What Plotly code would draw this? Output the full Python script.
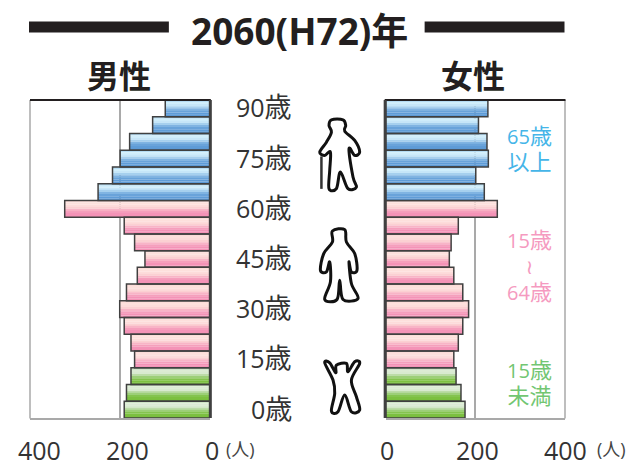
import plotly.graph_objects as go

W, H = 630, 466
# Data, youngest to oldest
age_start = [0, 5, 10, 15, 20, 25, 30, 35, 40, 45, 50, 55, 60, 65, 70, 75, 80, 85, 90]
male = [191, 186, 176, 168, 176, 191, 201, 186, 162, 145, 168, 191, 323, 249, 217, 200, 179, 128, 100]
female = [177, 168, 157, 152, 162, 172, 185, 172, 152, 142, 146, 162, 249, 220, 201, 229, 226, 207, 228]
age_ticks = [0, 15, 30, 45, 60, 75, 90]
x_ticks = [0, 200, 400]
title_text = "2060(H72)年"
groups = {
    "young": (0, 3, ["#cfe5c6", "#dcebd5", "#d8ead0", "#bcdca8", "#9ccf78", "#84c44f", "#7cc040", "#7abf3e"]),
    "work": (3, 13, ["#fcdcd8", "#fde0dc", "#fddcda", "#fbd0d2", "#f8b4c6", "#f59fbc", "#f493b7", "#f492b6"]),
    "old": (13, 19, ["#b5dcf3", "#d0eefb", "#c6e6f8", "#a6d0ee", "#80b4e2", "#69a3da", "#5f9cd7", "#5c9ad6"]),
}
OUTLINE = "#404040"
DARK = "#231f20"
GRAY = "#a9a9a9"
FONT = "Open Sans, Noto Sans CJK JP, DejaVu Sans, sans-serif"
CJK = "Noto Sans CJK JP, sans-serif"

# plot area in page pixels
LEFT, RIGHT, TOP, BOTTOM = 30.0, 565.5, 99.5, 418.0


def px(x):
    return (x - LEFT) / (RIGHT - LEFT)


def py(y):
    return (BOTTOM - y) / (BOTTOM - TOP)


fig = go.Figure()
for name, (a, b, cols) in groups.items():
    n = len(cols)
    ys = [i + 0.5 for i in range(a, b)]
    for side, vals, xa in (("m", male, "x"), ("f", female, "x2")):
        for k, c in enumerate(cols):
            fig.add_bar(x=vals[a:b], y=ys, orientation="h", xaxis=xa, yaxis="y",
                        width=1 / n + 0.006, offset=0.5 - (k + 1) / n,
                        marker=dict(color=c, line=dict(width=0)), showlegend=False, hoverinfo="skip")
        fig.add_bar(x=vals[a:b], y=ys, orientation="h", xaxis=xa, yaxis="y",
                    width=1.0, offset=-0.5,
                    marker=dict(color="rgba(0,0,0,0)", line=dict(color=OUTLINE, width=1.5)),
                    showlegend=False, name=side)

axis_common = dict(tickvals=x_ticks, showgrid=True, gridcolor=GRAY, gridwidth=1.5, zeroline=False,
                   showline=True, linecolor=GRAY, linewidth=1.5, ticks="", anchor="y", fixedrange=True,
                   automargin=False, showticklabels=False)
fig.update_layout(
    template="none",
    width=W, height=H, margin=dict(l=LEFT, r=W - RIGHT, t=TOP, b=H - BOTTOM, pad=0), autosize=False,
    paper_bgcolor="white", plot_bgcolor="rgba(0,0,0,0)", barmode="overlay", showlegend=False,
    font=dict(family=FONT, color="#333333"),
    xaxis=dict(domain=[px(30), px(210.5)], range=[400, 0], **axis_common),
    xaxis2=dict(domain=[px(386), px(565.5)], range=[0, 400], **axis_common),
    yaxis=dict(domain=[0, 1], range=[0, 19], showgrid=False, zeroline=False, showline=False,
               showticklabels=False, ticks="", fixedrange=True, automargin=False),
)

shapes = []
# outer frame lines at the 400 end of each axis
for x in (30, 565.5):
    shapes.append(dict(type="line", xref="paper", yref="paper", x0=px(x), x1=px(x), y0=py(99.5), y1=py(418.5),
                       line=dict(color=GRAY, width=1.5)))
# heading rules
for x0, x1 in ((29, 169), (425, 565)):
    shapes.append(dict(type="rect", xref="paper", yref="paper", x0=px(x0), x1=px(x1), y0=py(21), y1=py(32),
                       fillcolor=DARK, line=dict(width=0)))
# top dark rules and thick baselines
for x0, x1 in ((30, 211), (385, 566)):
    shapes.append(dict(type="line", xref="paper", yref="paper", x0=px(x0), x1=px(x1), y0=py(99.5), y1=py(99.5),
                       line=dict(color=DARK, width=2)))
for x in (210.5, 385.5):
    shapes.append(dict(type="line", xref="paper", yref="paper", x0=px(x), x1=px(x), y0=py(99.5), y1=py(418),
                       line=dict(color=OUTLINE, width=3)))

# pictograms (decoration, in page pixels)
elder = [(331.7, 119.3), (343.3, 119.3), (346, 125), (345, 130.7), (355, 140), (360, 151.7), (355, 155), (349.3, 148.3),
         (353.3, 176.7), (356.7, 186.7), (348.3, 188.3), (340.7, 171.7), (336.7, 188.3), (329.3, 188.3), (330, 170),
         (330.7, 151.7), (325, 155), (320, 151.7), (326.7, 141.7), (331.7, 131.7), (329.3, 125)]
adult = [(332.7, 230.7), (345, 229.3), (346.7, 241.7), (355, 253.3), (357.3, 270), (351.7, 271.7), (349.3, 261.7),
         (351.7, 283.3), (358.3, 298.3), (343.3, 299.3), (340, 280), (337.3, 299.3), (325, 299.3), (330.7, 281.7),
         (330, 261.7), (326.7, 271.7), (320.7, 270), (324, 253.3), (332.7, 241.7)]
child = [(325, 362.7), (330, 362.7), (336, 372.7), (336.7, 365), (346.7, 363.3), (348.3, 371.7), (355, 361.7), (360, 363.3),
         (351.7, 380), (356.7, 396.7), (360, 410), (351.7, 411.7), (345, 395), (338.3, 411.7), (331.7, 411), (335, 393.3),
         (333.3, 380)]


def smooth(pts):
    n = len(pts)
    d = f"M {px(pts[0][0]):.5f},{py(pts[0][1]):.5f}"
    for i in range(n):
        p0, p1, p2, p3 = pts[i - 1], pts[i], pts[(i + 1) % n], pts[(i + 2) % n]
        c1 = (p1[0] + (p2[0] - p0[0]) / 6, p1[1] + (p2[1] - p0[1]) / 6)
        c2 = (p2[0] - (p3[0] - p1[0]) / 6, p2[1] - (p3[1] - p1[1]) / 6)
        d += f" C {px(c1[0]):.5f},{py(c1[1]):.5f} {px(c2[0]):.5f},{py(c2[1]):.5f} {px(p2[0]):.5f},{py(p2[1]):.5f}"
    return d + " Z"


for pts in (elder, adult, child):
    shapes.append(dict(type="path", xref="paper", yref="paper", path=smooth(pts), fillcolor="white",
                       line=dict(color="#111111", width=3)))
shapes.append(dict(type="line", xref="paper", yref="paper", x0=px(321.7), x1=px(321.7), y0=py(156), y1=py(188.5),
                   line=dict(color="#333333", width=2.5)))
fig.update_layout(shapes=shapes)


def note(text, x, y, size, color="#333333", bold=False, anchor="center", family=FONT, **kw):
    fig.add_annotation(text=f"<b>{text}</b>" if bold else text, x=kw.pop("xval", px(x)), y=kw.pop("yval", py(y)),
                       xref=kw.pop("xref", "paper"), yref=kw.pop("yref", "paper"), showarrow=False,
                       xanchor=anchor, yanchor="middle", align="center",
                       font=dict(size=size, color=color, family=family), **kw)


def kanji(s, size):
    return f"<span style='font-size:{size}px'>{s}</span>"


note(title_text, 299.5, 30, 37, "#231f20", True)
note("男性", 119.5, 73, 32, "#231f20", True, family=CJK)
note("女性", 473.5, 73, 32, "#231f20", True, family=CJK)
for a in age_ticks:
    i = age_start.index(a)
    note(f"{a}{kanji('歳', 27)}", 294, 0, 25, "#333333", anchor="right", yval=i + 0.5, yref="y", yshift=1.5)
# left-hand axis labels sit a little to the right of their gridlines
for v, sh in zip(x_ticks, (2, 7.5, 9)):
    note(str(v), 0, 450, 25, "#333333", xval=v, xref="x", xshift=sh)
for v, sh in zip(x_ticks, (1, 2, 0.5)):
    note(str(v), 0, 450, 25, "#333333", xval=v, xref="x2", xshift=sh)
note("(人)", 241, 449, 18, "#444444")
note("(人)", 612, 449, 18, "#444444")

BLUE, PINK, GREEN = "#45b5e8", "#f59ac0", "#72c672"
note(f"65{kanji('歳', 22)}<br>{kanji('以上', 22)}", 530, 148, 20, BLUE)
note(f"15{kanji('歳', 22)}<br>≀<br>64{kanji('歳', 22)}", 530, 265, 20, PINK)
note(f"15{kanji('歳', 22)}<br>{kanji('未満', 22)}", 530, 381.5, 20, GREEN)

fig.write_html("out.html", config={"displayModeBar": False},
               post_script="document.body.style.margin='0';document.body.style.overflow='hidden';")
